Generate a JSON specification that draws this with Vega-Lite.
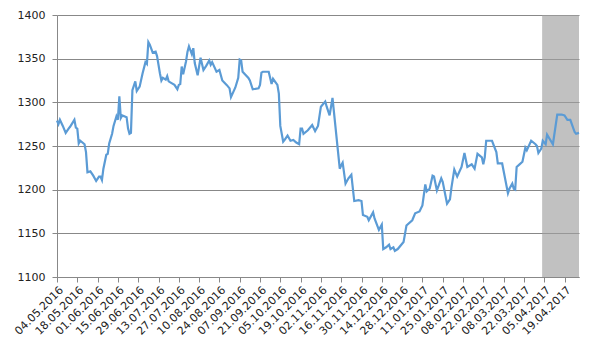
{
  "$schema": "https://vega.github.io/schema/vega-lite/v6.json",
  "autosize": {"type": "none"},
  "padding": {"left": 57, "top": 15, "right": 26, "bottom": 79},
  "width": 522,
  "height": 262,
  "background": "white",
  "config": {
    "view": {"stroke": null},
    "axis": {"labelFont": "DejaVu Sans", "labelFontSize": 11, "labelColor": "#222222", "domainColor": "#888888", "tickColor": "#888888", "tickSize": 5, "title": null},
    "axisX": {"labelOverlap": false, "labelBound": false}
  },
  "datasets": {
    "band": [{"start": "2017-04-03T14:00:00Z", "end": "2017-04-29T00:00:00Z"}],
    "series": [
      {"date": "2016-05-04", "value": 1279}, {"date": "2016-05-05", "value": 1275}, {"date": "2016-05-06", "value": 1280},
      {"date": "2016-05-08", "value": 1273}, {"date": "2016-05-10", "value": 1265}, {"date": "2016-05-12", "value": 1270},
      {"date": "2016-05-13", "value": 1272}, {"date": "2016-05-16", "value": 1280}, {"date": "2016-05-17", "value": 1271},
      {"date": "2016-05-18", "value": 1270}, {"date": "2016-05-19", "value": 1253}, {"date": "2016-05-20", "value": 1256},
      {"date": "2016-05-23", "value": 1252}, {"date": "2016-05-24", "value": 1243}, {"date": "2016-05-25", "value": 1220},
      {"date": "2016-05-27", "value": 1221}, {"date": "2016-05-29", "value": 1216}, {"date": "2016-05-31", "value": 1210},
      {"date": "2016-06-02", "value": 1215}, {"date": "2016-06-03", "value": 1215}, {"date": "2016-06-04", "value": 1211},
      {"date": "2016-06-05", "value": 1224}, {"date": "2016-06-07", "value": 1240}, {"date": "2016-06-08", "value": 1241},
      {"date": "2016-06-09", "value": 1253}, {"date": "2016-06-11", "value": 1264}, {"date": "2016-06-12", "value": 1273},
      {"date": "2016-06-14", "value": 1284}, {"date": "2016-06-15", "value": 1280}, {"date": "2016-06-16", "value": 1307},
      {"date": "2016-06-17", "value": 1282}, {"date": "2016-06-18", "value": 1285}, {"date": "2016-06-21", "value": 1283},
      {"date": "2016-06-22", "value": 1270}, {"date": "2016-06-23", "value": 1264}, {"date": "2016-06-24", "value": 1265},
      {"date": "2016-06-25", "value": 1314}, {"date": "2016-06-27", "value": 1324}, {"date": "2016-06-28", "value": 1313},
      {"date": "2016-06-30", "value": 1318}, {"date": "2016-07-02", "value": 1333}, {"date": "2016-07-04", "value": 1346},
      {"date": "2016-07-05", "value": 1344}, {"date": "2016-07-06", "value": 1369}, {"date": "2016-07-07", "value": 1366},
      {"date": "2016-07-09", "value": 1357}, {"date": "2016-07-11", "value": 1358}, {"date": "2016-07-12", "value": 1353},
      {"date": "2016-07-14", "value": 1333}, {"date": "2016-07-15", "value": 1325}, {"date": "2016-07-16", "value": 1328},
      {"date": "2016-07-18", "value": 1326}, {"date": "2016-07-19", "value": 1330}, {"date": "2016-07-20", "value": 1324},
      {"date": "2016-07-22", "value": 1322}, {"date": "2016-07-24", "value": 1320}, {"date": "2016-07-26", "value": 1315},
      {"date": "2016-07-27", "value": 1320}, {"date": "2016-07-28", "value": 1321}, {"date": "2016-07-29", "value": 1341},
      {"date": "2016-07-30", "value": 1332}, {"date": "2016-08-01", "value": 1347}, {"date": "2016-08-02", "value": 1358},
      {"date": "2016-08-03", "value": 1364}, {"date": "2016-08-05", "value": 1355}, {"date": "2016-08-06", "value": 1362},
      {"date": "2016-08-07", "value": 1345}, {"date": "2016-08-09", "value": 1331}, {"date": "2016-08-11", "value": 1351},
      {"date": "2016-08-13", "value": 1337}, {"date": "2016-08-15", "value": 1342}, {"date": "2016-08-17", "value": 1348},
      {"date": "2016-08-18", "value": 1343}, {"date": "2016-08-19", "value": 1346}, {"date": "2016-08-22", "value": 1335},
      {"date": "2016-08-24", "value": 1337}, {"date": "2016-08-26", "value": 1325}, {"date": "2016-08-29", "value": 1320},
      {"date": "2016-08-31", "value": 1316}, {"date": "2016-09-01", "value": 1306}, {"date": "2016-09-04", "value": 1317},
      {"date": "2016-09-06", "value": 1328}, {"date": "2016-09-07", "value": 1349}, {"date": "2016-09-08", "value": 1348},
      {"date": "2016-09-09", "value": 1335}, {"date": "2016-09-13", "value": 1328}, {"date": "2016-09-14", "value": 1325},
      {"date": "2016-09-16", "value": 1315}, {"date": "2016-09-20", "value": 1316}, {"date": "2016-09-21", "value": 1320},
      {"date": "2016-09-22", "value": 1334}, {"date": "2016-09-23", "value": 1335}, {"date": "2016-09-27", "value": 1335},
      {"date": "2016-09-29", "value": 1321}, {"date": "2016-09-30", "value": 1327}, {"date": "2016-10-03", "value": 1320},
      {"date": "2016-10-04", "value": 1310}, {"date": "2016-10-05", "value": 1273}, {"date": "2016-10-07", "value": 1255},
      {"date": "2016-10-08", "value": 1257}, {"date": "2016-10-10", "value": 1262}, {"date": "2016-10-12", "value": 1256},
      {"date": "2016-10-14", "value": 1257}, {"date": "2016-10-16", "value": 1254}, {"date": "2016-10-18", "value": 1252},
      {"date": "2016-10-19", "value": 1270}, {"date": "2016-10-20", "value": 1270}, {"date": "2016-10-21", "value": 1264},
      {"date": "2016-10-24", "value": 1268}, {"date": "2016-10-27", "value": 1274}, {"date": "2016-10-29", "value": 1267},
      {"date": "2016-10-31", "value": 1273}, {"date": "2016-11-02", "value": 1295}, {"date": "2016-11-05", "value": 1301},
      {"date": "2016-11-06", "value": 1295}, {"date": "2016-11-08", "value": 1285}, {"date": "2016-11-10", "value": 1305},
      {"date": "2016-11-15", "value": 1224}, {"date": "2016-11-16", "value": 1228}, {"date": "2016-11-17", "value": 1231},
      {"date": "2016-11-19", "value": 1207}, {"date": "2016-11-21", "value": 1213}, {"date": "2016-11-23", "value": 1217},
      {"date": "2016-11-25", "value": 1187}, {"date": "2016-11-28", "value": 1188}, {"date": "2016-11-30", "value": 1187},
      {"date": "2016-12-01", "value": 1171}, {"date": "2016-12-04", "value": 1169}, {"date": "2016-12-05", "value": 1165},
      {"date": "2016-12-08", "value": 1174}, {"date": "2016-12-09", "value": 1167}, {"date": "2016-12-12", "value": 1154},
      {"date": "2016-12-14", "value": 1160}, {"date": "2016-12-15", "value": 1132}, {"date": "2016-12-17", "value": 1134},
      {"date": "2016-12-19", "value": 1137}, {"date": "2016-12-20", "value": 1132}, {"date": "2016-12-22", "value": 1134},
      {"date": "2016-12-23", "value": 1130}, {"date": "2016-12-25", "value": 1132}, {"date": "2016-12-29", "value": 1140},
      {"date": "2016-12-31", "value": 1159}, {"date": "2017-01-04", "value": 1165}, {"date": "2017-01-06", "value": 1173},
      {"date": "2017-01-09", "value": 1175}, {"date": "2017-01-11", "value": 1182}, {"date": "2017-01-13", "value": 1206},
      {"date": "2017-01-14", "value": 1198}, {"date": "2017-01-16", "value": 1201}, {"date": "2017-01-18", "value": 1216},
      {"date": "2017-01-19", "value": 1215}, {"date": "2017-01-21", "value": 1199}, {"date": "2017-01-24", "value": 1213},
      {"date": "2017-01-25", "value": 1209}, {"date": "2017-01-28", "value": 1184}, {"date": "2017-01-30", "value": 1189},
      {"date": "2017-01-31", "value": 1202}, {"date": "2017-02-02", "value": 1223}, {"date": "2017-02-04", "value": 1215},
      {"date": "2017-02-07", "value": 1226}, {"date": "2017-02-09", "value": 1242}, {"date": "2017-02-11", "value": 1226},
      {"date": "2017-02-14", "value": 1229}, {"date": "2017-02-16", "value": 1224}, {"date": "2017-02-18", "value": 1241},
      {"date": "2017-02-21", "value": 1237}, {"date": "2017-02-22", "value": 1229}, {"date": "2017-02-23", "value": 1237},
      {"date": "2017-02-24", "value": 1256}, {"date": "2017-02-28", "value": 1256}, {"date": "2017-03-03", "value": 1243},
      {"date": "2017-03-04", "value": 1230}, {"date": "2017-03-07", "value": 1230}, {"date": "2017-03-11", "value": 1196},
      {"date": "2017-03-12", "value": 1201}, {"date": "2017-03-14", "value": 1207}, {"date": "2017-03-15", "value": 1201},
      {"date": "2017-03-16", "value": 1200}, {"date": "2017-03-17", "value": 1226}, {"date": "2017-03-19", "value": 1229},
      {"date": "2017-03-21", "value": 1232}, {"date": "2017-03-23", "value": 1248}, {"date": "2017-03-24", "value": 1245},
      {"date": "2017-03-27", "value": 1256}, {"date": "2017-03-30", "value": 1252}, {"date": "2017-03-31", "value": 1250},
      {"date": "2017-04-01", "value": 1242}, {"date": "2017-04-03", "value": 1247}, {"date": "2017-04-04", "value": 1256},
      {"date": "2017-04-06", "value": 1252}, {"date": "2017-04-07", "value": 1263}, {"date": "2017-04-11", "value": 1252},
      {"date": "2017-04-14", "value": 1286}, {"date": "2017-04-17", "value": 1286}, {"date": "2017-04-19", "value": 1285},
      {"date": "2017-04-21", "value": 1280}, {"date": "2017-04-23", "value": 1280}, {"date": "2017-04-26", "value": 1266},
      {"date": "2017-04-27", "value": 1264}, {"date": "2017-04-29", "value": 1265}
    ]
  },
  "layer": [
    {
      "data": {"name": "band"},
      "mark": {"type": "rect", "color": "#A0A0A0", "opacity": 0.65},
      "encoding": {
        "x": {"field": "start", "type": "temporal"},
        "x2": {"field": "end"}
      }
    },
    {
      "data": {"name": "series"},
      "mark": {"type": "line", "color": "#5B9BD5", "strokeWidth": 2.2, "interpolate": "linear"},
      "encoding": {
        "x": {
          "field": "date", "type": "temporal",
          "scale": {"type": "utc", "domain": [{"year": 2016, "month": 5, "date": 4, "utc": true}, {"year": 2017, "month": 4, "date": 29, "utc": true}]},
          "axis": {
            "format": "%d.%m.%Y", "labelAngle": -45, "grid": false, "labelOverlap": false, "labelPadding": 2, "tickCount": 60,
            "values": [
              {"year": 2016, "month": 5, "date": 4, "utc": true}, {"year": 2016, "month": 5, "date": 18, "utc": true},
              {"year": 2016, "month": 6, "date": 1, "utc": true}, {"year": 2016, "month": 6, "date": 15, "utc": true},
              {"year": 2016, "month": 6, "date": 29, "utc": true}, {"year": 2016, "month": 7, "date": 13, "utc": true},
              {"year": 2016, "month": 7, "date": 27, "utc": true}, {"year": 2016, "month": 8, "date": 10, "utc": true},
              {"year": 2016, "month": 8, "date": 24, "utc": true}, {"year": 2016, "month": 9, "date": 7, "utc": true},
              {"year": 2016, "month": 9, "date": 21, "utc": true}, {"year": 2016, "month": 10, "date": 5, "utc": true},
              {"year": 2016, "month": 10, "date": 19, "utc": true}, {"year": 2016, "month": 11, "date": 2, "utc": true},
              {"year": 2016, "month": 11, "date": 16, "utc": true}, {"year": 2016, "month": 11, "date": 30, "utc": true},
              {"year": 2016, "month": 12, "date": 14, "utc": true}, {"year": 2016, "month": 12, "date": 28, "utc": true},
              {"year": 2017, "month": 1, "date": 11, "utc": true}, {"year": 2017, "month": 1, "date": 25, "utc": true},
              {"year": 2017, "month": 2, "date": 8, "utc": true}, {"year": 2017, "month": 2, "date": 22, "utc": true},
              {"year": 2017, "month": 3, "date": 8, "utc": true}, {"year": 2017, "month": 3, "date": 22, "utc": true},
              {"year": 2017, "month": 4, "date": 5, "utc": true}, {"year": 2017, "month": 4, "date": 19, "utc": true}
            ]
          }
        },
        "y": {
          "field": "value", "type": "quantitative",
          "scale": {"domain": [1100, 1400], "nice": false, "zero": false},
          "axis": {"values": [1100, 1150, 1200, 1250, 1300, 1350, 1400], "format": "d", "grid": true, "gridColor": "#888888", "labelPadding": 7}
        }
      }
    }
  ]
}
